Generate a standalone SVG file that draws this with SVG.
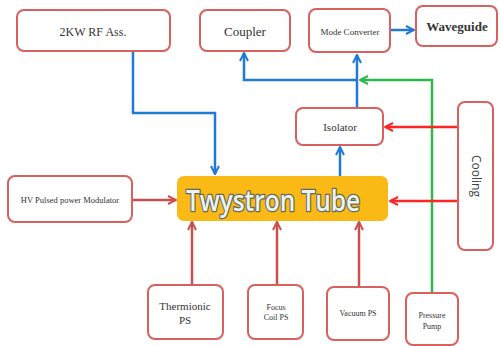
<svg xmlns="http://www.w3.org/2000/svg" width="500" height="346" viewBox="0 0 500 346">
<defs>
<style>
.box{fill:#fff;stroke:#D9605F;stroke-width:2}
.lbl{font-family:"Liberation Serif",serif;fill:#333;text-anchor:middle}
.blue{fill:none;stroke:#1E7AD2;stroke-width:2.5}
.red{fill:none;stroke:#FF2525;stroke-width:2.5}
.dred{fill:none;stroke:#C9504F;stroke-width:2.5}
.green{fill:none;stroke:#2EB84B;stroke-width:2.5}
</style>
<marker id="ab" viewBox="0 0 10 10" refX="9" refY="5" markerWidth="4" markerHeight="4" orient="auto" markerUnits="strokeWidth"><polyline points="1,1 9,5 1,9" fill="none" stroke="#1E7AD2" stroke-width="2"/></marker>
<marker id="ar" viewBox="0 0 10 10" refX="9" refY="5" markerWidth="4" markerHeight="4" orient="auto" markerUnits="strokeWidth"><polyline points="1,1 9,5 1,9" fill="none" stroke="#FF2525" stroke-width="2"/></marker>
<marker id="ad" viewBox="0 0 10 10" refX="9" refY="5" markerWidth="4" markerHeight="4" orient="auto" markerUnits="strokeWidth"><polyline points="1,1 9,5 1,9" fill="none" stroke="#C9504F" stroke-width="2"/></marker>
<marker id="ag" viewBox="0 0 10 10" refX="9" refY="5" markerWidth="4" markerHeight="4" orient="auto" markerUnits="strokeWidth"><polyline points="1,1 9,5 1,9" fill="none" stroke="#2EB84B" stroke-width="2"/></marker>
</defs>
<rect width="500" height="346" fill="#fff"/>
<g id="connectors">
<polyline class="blue" points="133,51 133,113 215,113 215,174" marker-end="url(#ab)"/>
<polyline class="blue" points="357,80 244,80 244,53" marker-end="url(#ab)"/>
<polyline class="blue" points="357,108 357,55" marker-end="url(#ab)"/>
<polyline class="blue" points="390,30 414,30" marker-end="url(#ab)"/>
<polyline class="blue" points="340,176 340,147" marker-end="url(#ab)"/>
<polyline class="green" points="432,292 432,80 360,80" marker-end="url(#ag)"/>
<polyline class="red" points="458,127 385,127" marker-end="url(#ar)"/>
<polyline class="red" points="458,201 390,201" marker-end="url(#ar)"/>
<polyline class="dred" points="132,200 176,200" marker-end="url(#ad)"/>
<polyline class="dred" points="192,285 192,222" marker-end="url(#ad)"/>
<polyline class="dred" points="277,285 277,222" marker-end="url(#ad)"/>
<polyline class="dred" points="359,287 359,222" marker-end="url(#ad)"/>
</g>
<g id="rf"><rect class="box" x="17" y="10" width="153" height="41" rx="7"/><text class="lbl" x="93" y="36" font-size="12">2KW RF Ass.</text></g>
<g id="coupler"><rect class="box" x="200" y="10" width="90" height="41" rx="7"/><text class="lbl" x="245" y="36" font-size="13">Coupler</text></g>
<g id="modeconv"><rect class="box" x="309" y="9" width="81" height="43" rx="7"/><text class="lbl" x="350" y="35" font-size="9">Mode Converter</text></g>
<g id="waveguide"><rect class="box" x="416" y="6" width="81" height="40" rx="7"/><text class="lbl" x="457" y="31" font-size="13" font-weight="bold">Waveguide</text></g>
<g id="isolator"><rect class="box" x="296" y="108" width="87" height="37" rx="7"/><text class="lbl" x="340" y="131" font-size="11">Isolator</text></g>
<g id="cooling"><rect class="box" x="458" y="102" width="35" height="148" rx="7"/><text x="475" y="176" font-family="'Open Sans','Liberation Sans',sans-serif" font-size="12" fill="#444" text-anchor="middle" dominant-baseline="middle" transform="rotate(90 475 176)">Cooling</text></g>
<g id="modulator"><rect class="box" x="8" y="176" width="124" height="46" rx="7"/><text class="lbl" x="70" y="203" font-size="8.5">HV Pulsed power Modulator</text></g>
<g id="tube"><rect x="177" y="176" width="211" height="45" rx="7" fill="#FBB915"/><text x="273" y="211" font-family="'Open Sans',Lato,sans-serif" font-size="28" font-weight="600" fill="#EEF2EE" stroke="#5F6A60" stroke-width="2.6" paint-order="stroke" stroke-linejoin="round" text-anchor="middle" textLength="174" lengthAdjust="spacingAndGlyphs">Twystron Tube</text></g>
<g id="thermionic"><rect class="box" x="148" y="285" width="75" height="54" rx="7"/><text class="lbl" x="185" y="310" font-size="11">Thermionic</text><text class="lbl" x="185" y="324" font-size="11">PS</text></g>
<g id="focus"><rect class="box" x="248" y="285" width="55" height="54" rx="7"/><text class="lbl" x="276" y="310" font-size="8">Focus</text><text class="lbl" x="276" y="320" font-size="8">Coil PS</text></g>
<g id="vacuum"><rect class="box" x="327" y="287" width="62" height="53" rx="7"/><text class="lbl" x="358" y="316" font-size="8">Vacuum PS</text></g>
<g id="pump"><rect class="box" x="406" y="293" width="52" height="52" rx="7"/><text class="lbl" x="432" y="318" font-size="8">Pressure</text><text class="lbl" x="432" y="329" font-size="8">Pump</text></g>
</svg>
